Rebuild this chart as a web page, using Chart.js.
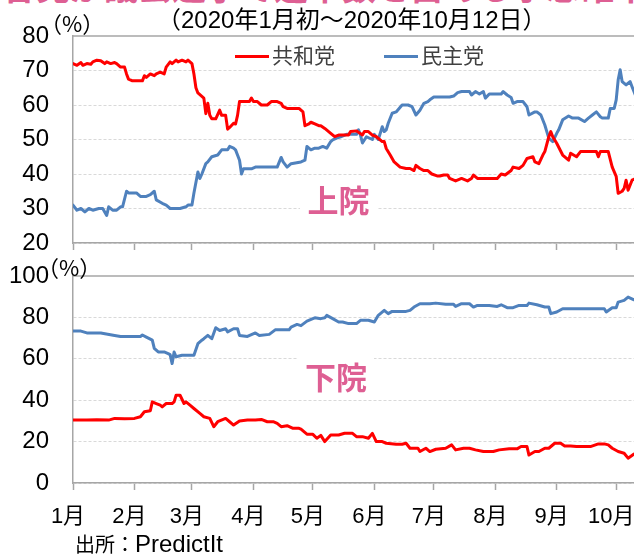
<!DOCTYPE html>
<html>
<head>
<meta charset="utf-8">
<script src="https://cdn.jsdelivr.net/npm/chart.js@4.4.1/dist/chart.umd.min.js"></script>
<style>
  html, body { margin: 0; padding: 0; }
  body { width: 634px; height: 558px; overflow: hidden; position: relative; background: #fff;
         font-family: 'Liberation Sans', 'Noto Sans CJK JP', sans-serif; color: #000; }
  canvas { position: absolute; left: 0; }
  #senate { top: 20px; }
  #house { top: 258px; }
  .abs { position: absolute; white-space: nowrap; }
  .title { top: -31px; left: 2px; font: bold 34px/34px 'Noto Sans CJK JP', sans-serif; color: #de5f93; }
  .pct { font: 22px/22px 'Noto Sans CJK JP', sans-serif; }
  .sub { top: 7px; left: 157px; font-size: 24px; line-height: 26px; }
  .legend { top: 42px; font: 21px/24px 'Noto Sans CJK JP', sans-serif; color: #404040; }
  .legend span.swatch { display: inline-block; width: 34px; height: 3px; vertical-align: middle; margin-right: 3px; position: relative; top: -1px; }
  .house-label { background: #fff; text-align: center; font: bold 31px/36px 'Noto Sans CJK JP', sans-serif; color: #de5f93; }
  .source { top: 530px; left: 75px; font: 20px/26px 'Noto Sans CJK JP', sans-serif; }
  .source b { font: 24px 'Liberation Sans', sans-serif; font-weight: normal; }
</style>
</head>
<body>
<canvas id="senate" width="660" height="238"></canvas>
<canvas id="house" width="660" height="300"></canvas>

<div class="abs title">各党が議会選挙で過半数を占める予想確率の推移</div>
<div class="abs pct" style="left:40px; top:11px;">（%）</div>
<div class="abs sub">（2020年1月初～2020年10月12日）</div>
<div class="abs legend" style="left:235px;"><span class="swatch" style="background:#ff0000"></span>共和党</div>
<div class="abs legend" style="left:384px;"><span class="swatch" style="background:#4f81bd"></span>民主党</div>
<div class="abs house-label" style="left:300px; top:181px; width:77px; height:36px;">上院</div>
<div class="abs pct" style="left:37px; top:255px;">（%）</div>
<div class="abs house-label" style="left:298px; top:358px; width:76px; height:38px;">下院</div>
<div class="abs source">出所：<b>PredictIt</b></div>

<script>
// x values are days since Jan 1, 2020
const monthStarts = [0, 31, 60, 91, 121, 152, 182, 213, 244, 274];
const monthLabels = ['1月', '2月', '3月', '4月', '5月', '6月', '7月', '8月', '9月', '10月'];
const seriesNames = ['共和党', '民主党'];

// Senate (上院)
const senateRepDays = [0, 2, 4, 5, 7, 9, 10, 12, 14, 16, 17, 19, 21, 22, 24, 26, 27, 28, 30, 32, 35, 36, 37, 39, 41, 42, 44, 46, 47, 49, 50, 52, 53, 55, 57, 58, 60, 61, 62, 63, 65, 66, 67, 68, 69, 70, 72, 74, 75, 77, 78, 79, 81, 82, 83, 84, 86, 89, 90, 91, 93, 95, 98, 100, 103, 105, 106, 108, 111, 114, 116, 117, 119, 120, 122, 124, 125, 127, 130, 132, 134, 139, 140, 143, 146, 147, 149, 151, 153, 156, 157, 158, 160, 162, 165, 168, 170, 172, 173, 175, 177, 179, 181, 184, 185, 187, 189, 190, 193, 196, 199, 201, 202, 204, 207, 211, 214, 216, 218, 221, 222, 225, 227, 229, 232, 233, 235, 237, 238, 240, 241, 242, 244, 247, 250, 251, 254, 256, 261, 264, 265, 266, 270, 272, 274, 275, 277, 278, 279, 280, 282, 284];
const senateRep = [72, 71.5, 72.3, 71.5, 72, 71.8, 72.5, 73, 72.8, 72, 72.5, 72, 72.3, 72, 71, 71, 69, 67.5, 67, 67, 67, 68.5, 68, 69, 68.5, 69, 69.5, 69, 71, 72.5, 72, 73, 72.5, 73, 72.5, 73, 72, 69, 65, 63.5, 62.5, 62, 57.5, 60.5, 57, 56, 56, 58.5, 57, 57, 53, 53.5, 54.7, 54.5, 57, 61, 61, 61, 62, 61, 61, 60, 60, 61, 61, 60.5, 59.5, 59, 59, 59, 58, 54, 54.5, 55, 54.5, 54, 54, 53.2, 51.8, 50.8, 51.3, 51.3, 52.3, 52.5, 51.3, 52.3, 52.3, 51.3, 50.8, 49.4, 49.4, 47.4, 45.5, 43.5, 42, 41.6, 41.6, 41, 42.5, 41.6, 41, 41, 40, 39.4, 39.4, 39.7, 39.7, 38.7, 38, 38.7, 38, 38.7, 39.7, 38.7, 38.7, 38.7, 38.7, 40, 39.7, 41, 42, 41.6, 42.5, 44.5, 45, 43.5, 43, 45.5, 46.5, 50.8, 52.3, 50.8, 48.9, 45.5, 44, 46, 45, 46.5, 46.5, 46.5, 45, 46.5, 46.5, 42, 39.3, 34.4, 35, 35.8, 38.2, 35.3, 38.2, 38.7];

const senateDemDays = [0, 2, 4, 6, 8, 10, 13, 15, 17, 18, 20, 22, 24, 25, 27, 28, 31, 32, 34, 37, 39, 41, 42, 45, 47, 49, 54, 57, 58, 60, 61, 63, 64, 65, 67, 68, 70, 73, 75, 78, 79, 81, 82, 84, 85, 86, 90, 92, 96, 100, 103, 105, 106, 108, 110, 115, 117, 118, 120, 122, 124, 126, 128, 130, 131, 133, 135, 138, 143, 144, 145, 146, 148, 151, 152, 154, 156, 157, 158, 159, 161, 163, 166, 169, 171, 173, 175, 177, 179, 180, 182, 190, 192, 194, 196, 200, 201, 203, 205, 207, 208, 210, 216, 217, 219, 221, 222, 224, 227, 229, 230, 233, 234, 236, 238, 239, 240, 242, 244, 245, 247, 250, 252, 255, 258, 260, 262, 264, 266, 267, 270, 271, 273, 274, 275, 276, 277, 279, 281, 282, 284];
const senateDem = [31, 29.5, 30, 29, 30, 29.5, 30, 30, 28, 30.5, 29.5, 29.5, 30.5, 30.5, 35, 34.5, 34.5, 34.5, 33.5, 33.5, 34, 35, 32.5, 31.5, 31, 30, 30, 30.5, 31, 31, 34.5, 40.6, 38.7, 40, 43, 43.5, 45, 45.5, 47, 47, 48, 47.5, 47, 44, 40, 41.5, 41.5, 42, 42, 42, 42, 44.8, 43.5, 42, 43, 43.5, 44, 48, 47, 47.5, 47.5, 48, 47.5, 49.4, 49.9, 50.4, 50.8, 51.5, 51.5, 52.8, 51.3, 49, 50.8, 50, 51.5, 50, 53.7, 52.3, 52.8, 54.7, 57.6, 58, 60, 60, 59.5, 57.1, 58.5, 60.5, 61, 61.5, 62.3, 62.3, 62.6, 63.6, 63.9, 63.9, 62.9, 63.9, 63.2, 63.9, 62, 63.2, 63.2, 63.9, 62.9, 62.2, 60.5, 61, 61, 59.5, 57.1, 58, 58, 57.1, 54.2, 52.3, 50.4, 49.4, 51.8, 52.8, 55.7, 56.8, 56.2, 56.2, 55.2, 56.2, 57.1, 58, 56.6, 56.2, 56.2, 59, 59, 61.5, 67.3, 70.2, 66.8, 65.8, 66.8, 65.3, 62.4];

// House (下院)
const houseRepDays = [0, 7, 12, 18, 21, 26, 31, 34, 36, 39, 40, 42, 44, 45, 47, 50, 51, 52, 54, 56, 57, 59, 61, 64, 66, 69, 71, 73, 77, 79, 81, 84, 88, 92, 95, 98, 101, 103, 105, 108, 111, 114, 115, 118, 121, 123, 125, 127, 130, 134, 137, 141, 143, 146, 149, 151, 153, 156, 158, 163, 166, 168, 170, 174, 175, 178, 180, 183, 188, 191, 193, 197, 200, 203, 207, 212, 215, 220, 224, 226, 229, 230, 233, 235, 238, 240, 243, 246, 248, 251, 254, 261, 265, 268, 270, 272, 275, 278, 280, 283, 285];
const houseRep = [30.4, 30.4, 30.6, 30.4, 31.2, 31, 31.2, 32, 34.4, 34.9, 39.2, 38.4, 37.6, 36.8, 38.4, 38.4, 39.2, 42.4, 42.4, 38.4, 39.2, 37.6, 36, 33.6, 32, 31.2, 27.2, 29.6, 31.2, 29.6, 28, 30, 30.4, 30.4, 30.7, 29.6, 29.6, 28.8, 27.2, 27.7, 26.4, 26.4, 26, 23.6, 23.5, 21.6, 23, 20, 23.2, 23.2, 24, 24, 22.4, 22.4, 21.6, 24, 20, 20, 19.2, 18.7, 18.7, 19.2, 16.8, 16.8, 15.2, 16.8, 15.2, 16.3, 16.8, 18.4, 16, 16.8, 16.8, 16, 15.2, 15.2, 16, 16.5, 16.5, 17.6, 17.6, 13.5, 15.2, 15.2, 16.8, 16.8, 19.2, 19.2, 17.9, 17.9, 17.6, 17.6, 18.9, 18.9, 18.4, 16.8, 15.2, 14.4, 12, 14, 14];

const houseDemDays = [0, 4, 7, 14, 21, 24, 31, 34, 35, 37, 40, 41, 43, 46, 48, 49, 50, 51, 52, 55, 58, 61, 63, 65, 66, 68, 70, 72, 74, 77, 78, 81, 83, 84, 88, 92, 94, 99, 102, 109, 110, 113, 115, 118, 121, 122, 125, 127, 128, 131, 134, 136, 139, 143, 145, 149, 152, 154, 157, 159, 161, 168, 170, 172, 175, 180, 183, 188, 192, 193, 196, 200, 202, 204, 210, 214, 216, 219, 222, 225, 229, 230, 234, 238, 240, 241, 244, 247, 254, 259, 264, 268, 269, 272, 274, 275, 278, 280, 283, 285];
const houseDem = [73.4, 73.4, 72.5, 72.5, 71.3, 70.8, 70.8, 70.8, 71.5, 70.5, 69, 65, 63.3, 63.3, 62.5, 62, 57.7, 63.3, 61, 61.7, 61.7, 61.7, 67.3, 69, 69.7, 71.3, 69.7, 75, 73.7, 74.5, 73, 74.5, 74.5, 71.3, 70.8, 72.5, 71.3, 71.8, 74, 74, 75.3, 76.6, 76, 78.2, 79.4, 79.8, 79.4, 79.8, 81, 79.4, 77.8, 77.8, 77, 77, 78.6, 78.6, 77.8, 81, 83.4, 81.8, 82.9, 82.9, 83.4, 85, 86.6, 86.6, 86.9, 86.3, 86.3, 85.3, 86.6, 86.6, 85, 85.8, 85.8, 85.3, 86.1, 84.7, 84.7, 85.8, 85.8, 86.9, 86.1, 85, 85, 81.8, 82.6, 84.2, 84.2, 84.2, 84.2, 84.2, 82.6, 84.7, 84.7, 87.4, 88.2, 89.8, 88.5, 89.8];

const RED = '#ff0000';
const BLUE = '#4f81bd';
const AXIS_GRAY = '#a6a6a6';
const FONT = "'Liberation Sans', 'Noto Sans CJK JP', sans-serif";

function toPoints(days, vals) {
    return days.map((d, i) => ({ x: d, y: vals[i] }));
}

// solid line along the top of the plot area
const topBorder = {
    id: 'topBorder',
    beforeDatasetsDraw(chart) {
        const { ctx, chartArea } = chart;
        ctx.save();
        ctx.strokeStyle = AXIS_GRAY;
        ctx.lineWidth = 1.5;
        ctx.beginPath();
        ctx.moveTo(chartArea.left, chartArea.top);
        ctx.lineTo(chartArea.right, chartArea.top);
        ctx.stroke();
        ctx.restore();
    }
};

function makeChart(id, repDays, rep, demDays, dem, yMin, yMax, yStep, showMonths, pad) {
    const ctx = document.getElementById(id).getContext('2d');
    return new Chart(ctx, {
        type: 'line',
        data: {
            datasets: [
                { label: seriesNames[0], data: toPoints(repDays, rep), borderColor: RED, borderWidth: 3 },
                { label: seriesNames[1], data: toPoints(demDays, dem), borderColor: BLUE, borderWidth: 3 }
            ]
        },
        options: {
            responsive: false,
            animation: false,
            devicePixelRatio: 1,
            layout: { padding: pad },
            elements: {
                point: { radius: 0 },
                line: { tension: 0, borderJoinStyle: 'round', borderCapStyle: 'round' }
            },
            plugins: { legend: { display: false }, tooltip: { enabled: false } },
            scales: {
                x: {
                    type: 'linear',
                    min: 0,
                    max: 285,
                    afterBuildTicks: (scale) => { scale.ticks = monthStarts.map(v => ({ value: v })); },
                    afterFit: (scale) => {
                        scale.height = showMonths ? 75 : 15;
                        scale.paddingLeft = 0;
                        scale.paddingRight = 0;
                    },
                    grid: { drawOnChartArea: false, drawTicks: true, tickLength: 7, tickColor: AXIS_GRAY, tickWidth: 1.5 },
                    border: { color: AXIS_GRAY, width: 1.5 },
                    ticks: {
                        display: showMonths,
                        autoSkip: false,
                        maxRotation: 0,
                        padding: 14,
                        labelOffset: -5,
                        color: '#000',
                        font: { family: FONT, size: 22 },
                        callback: (v, i) => monthLabels[i]
                    }
                },
                y: {
                    min: yMin,
                    max: yMax,
                    afterFit: (scale) => {
                        scale.width = 73;
                        scale.paddingTop = 0;
                        scale.paddingBottom = 0;
                    },
                    grid: {
                        drawTicks: false,
                        color: (c) => (c.tick && c.tick.value === yMax) ? 'rgba(0,0,0,0)' : '#d9d9d9'
                    },
                    border: { color: AXIS_GRAY, width: 1.5, dash: [3, 2] },
                    ticks: {
                        stepSize: yStep,
                        padding: 24,
                        color: '#000',
                        font: { family: FONT, size: 24 }
                    }
                }
            }
        },
        plugins: [topBorder]
    });
}

makeChart('senate', senateRepDays, senateRep, senateDemDays, senateDem, 20, 80, 10, false,
    { top: 16, right: 22, bottom: 0, left: 0 });
makeChart('house', houseRepDays, houseRep, houseDemDays, houseDem, 0, 100, 20, true,
    { top: 18, right: 22, bottom: 0, left: 0 });
</script>
</body>
</html>
